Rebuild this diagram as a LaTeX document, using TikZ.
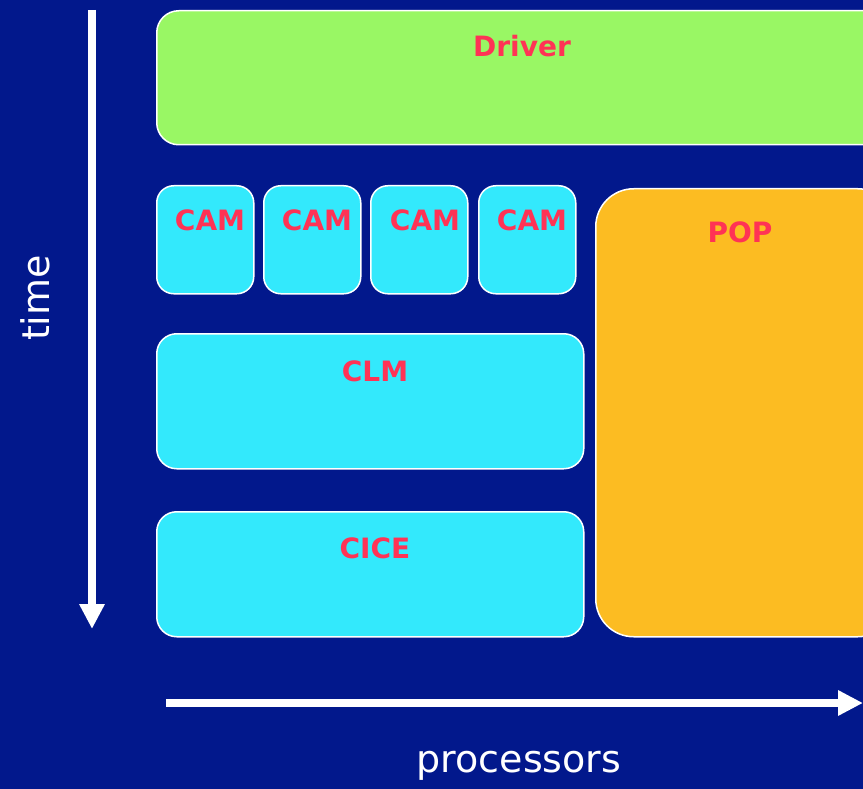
\documentclass[tikz,border=0pt]{standalone}
\usepackage{fontspec}
\setmainfont{DejaVu Sans}
\usetikzlibrary{arrows.meta}
\definecolor{bgblue}{RGB}{2,24,140}
\definecolor{drvgreen}{RGB}{153,247,100}
\definecolor{boxcyan}{RGB}{51,233,252}
\definecolor{poporange}{RGB}{252,188,34}
\definecolor{lblred}{RGB}{255,51,85}
\tikzset{
  box/.style={draw=white, line width=1.5pt, anchor=north west, inner sep=0pt},
  lbl/.style={text=lblred, font=\fontsize{28}{32}\selectfont\bfseries, inner sep=0pt},
  axislbl/.style={text=white, font=\fontsize{38}{42}\selectfont, inner sep=0pt},
  axisarrow/.style={white, line width=8pt, -{Triangle[width=24pt,length=25pt]}}
}
\begin{document}
\begin{tikzpicture}[x=1pt,y=-1pt]
\useasboundingbox (0,0) rectangle (863,789);
\fill[bgblue] (0,0) rectangle (863,789);
\clip (0,0) rectangle (863,789);
% boxes
\node[box, fill=drvgreen, rounded corners=22pt, minimum width=740pt, minimum height=134pt] (drv) at (156,10) {};
\node[box, fill=boxcyan, rounded corners=17pt, minimum width=97pt, minimum height=108pt] (cam1) at (156,185) {};
\node[box, fill=boxcyan, rounded corners=17pt, minimum width=97pt, minimum height=108pt] (cam2) at (263,185) {};
\node[box, fill=boxcyan, rounded corners=17pt, minimum width=97pt, minimum height=108pt] (cam3) at (370,185) {};
\node[box, fill=boxcyan, rounded corners=17pt, minimum width=97pt, minimum height=108pt] (cam4) at (478,185) {};
\node[box, fill=poporange, rounded corners=38pt, minimum width=300pt, minimum height=448pt] (pop) at (595,188) {};
\node[box, fill=boxcyan, rounded corners=20pt, minimum width=427pt, minimum height=135pt] (clm) at (156,333) {};
\node[box, fill=boxcyan, rounded corners=20pt, minimum width=427pt, minimum height=125pt] (cice) at (156,511) {};
% labels
\node[lbl] (tdrv) at (522,46) {Driver};
\node[lbl] (tcam1) at (210,220) {CAM};
\node[lbl] (tcam2) at (317,220) {CAM};
\node[lbl] (tcam3) at (425,220) {CAM};
\node[lbl] (tcam4) at (532,220) {CAM};
\node[lbl] (tpop) at (740,232) {POP};
\node[lbl] (tclm) at (375,371) {CLM};
\node[lbl] (tcice) at (375,548) {CICE};
% axes
\coordinate (tstart) at (92,10);
\coordinate (tend) at (92,629);
\coordinate (pstart) at (166,703);
\coordinate (pend) at (863,703);
\draw[axisarrow] (tstart) -- (tend);
\draw[axisarrow] (pstart) -- (pend);
\node[axislbl, rotate=90] (ttime) at (35,298) {time};
\node[axislbl] (tproc) at (519,766) {processors};
\end{tikzpicture}
\end{document}
